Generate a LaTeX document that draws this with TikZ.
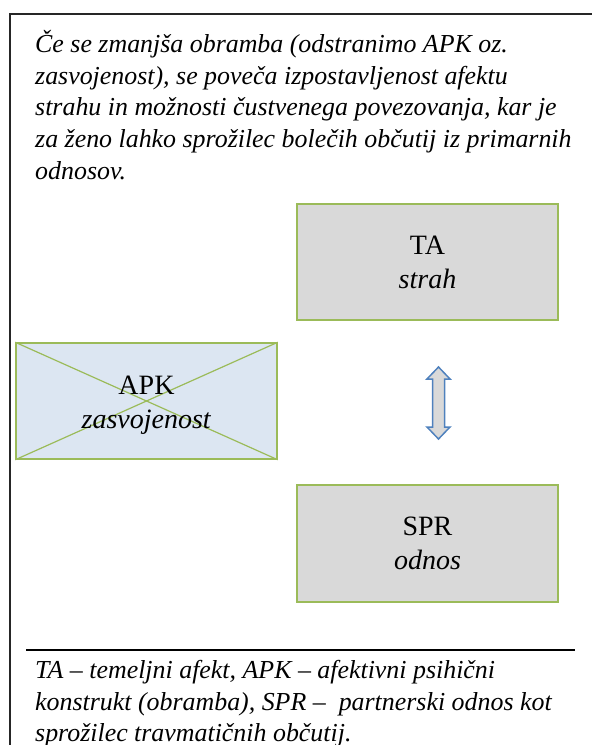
\documentclass[tikz,border=0pt]{standalone}
\usepackage{fontspec}
\setmainfont{Liberation Serif}

\definecolor{boxgreen}{HTML}{9BBB59}
\definecolor{boxgray}{HTML}{D9D9D9}
\definecolor{boxblue}{HTML}{DCE6F2}
\definecolor{arrowblue}{HTML}{4F81BD}

\tikzset{
  bodyline/.style={anchor=base west, inner sep=0pt,
    font=\fontsize{25.9}{31.75}\selectfont\itshape},
  conceptbox/.style={draw=boxgreen, line width=1.5pt, fill=boxgray,
    minimum width=261pt, minimum height=116pt, inner sep=0pt},
  boxtext/.style={align=center, inner sep=0pt,
    font=\fontsize{28}{34}\selectfont},
  linkarrow/.style={draw=arrowblue, fill=boxgray, line width=1.5pt,
    line join=miter},
}

\begin{document}
\begin{tikzpicture}[x=1pt, y=-1pt]
  \useasboundingbox (0,0) rectangle (592,745);

  % outer frame (runs past the right and bottom edges)
  \draw[black!85, line width=1.3pt] (10,800) -- (10,14) -- (640,14);

  % introductory text
  \node[bodyline] (intro1) at (35,52)    {Če se zmanjša obramba (odstranimo APK oz.};
  \node[bodyline] (intro2) at (35,84)    {zasvojenost), se poveča izpostavljenost afektu};
  \node[bodyline] (intro3) at (35,115.5) {strahu in možnosti čustvenega povezovanja, kar je};
  \node[bodyline] (intro4) at (35,147.5) {za ženo lahko sprožilec bolečih občutij iz primarnih};
  \node[bodyline] (intro5) at (35,179)   {odnosov.};

  % core affect
  \node[conceptbox] (ta) at (427.5,262) {};
  \node[boxtext] (talabel) at (ta.center) {TA\\\textit{strah}};

  % partner relationship
  \node[conceptbox, minimum height=117pt] (spr) at (427.5,543.5) {};
  \node[boxtext] (sprlabel) at (spr.center) {SPR\\\textit{odnos}};

  % removed defence: crossed-out box
  \node[conceptbox, fill=boxblue, minimum height=116pt] (apk) at (146.5,401) {};
  \draw[boxgreen, line width=1.2pt] (apk.north west) -- (apk.south east);
  \draw[boxgreen, line width=1.2pt] (apk.south west) -- (apk.north east);
  \node[boxtext] (apklabel) at ([yshift=-4pt]apk.center) {APK\\\textit{zasvojenost}};

  % two-way block arrow between fear and relationship
  \coordinate (link) at (438.5,403);
  \draw[linkarrow] (link) ++(0,-36) -- ++(11.5,12) -- ++(-5.5,0) -- ++(0,48)
    -- ++(5.5,0) -- ++(-11.5,12) -- ++(-11.5,-12) -- ++(5.5,0) -- ++(0,-48)
    -- ++(-5.5,0) -- cycle;

  % legend
  \draw[black, line width=1.6pt] (26,650) coordinate (sepl) -- (575,650) coordinate (sepr);
  \node[bodyline] (leg1) at (35,678) {TA – temeljni afekt, APK – afektivni psihični};
  \node[bodyline] (leg2) at (35,710) {konstrukt (obramba), SPR – \ partnerski odnos kot};
  \node[bodyline] (leg3) at (35,741) {sprožilec travmatičnih občutij.};
\end{tikzpicture}
\end{document}
